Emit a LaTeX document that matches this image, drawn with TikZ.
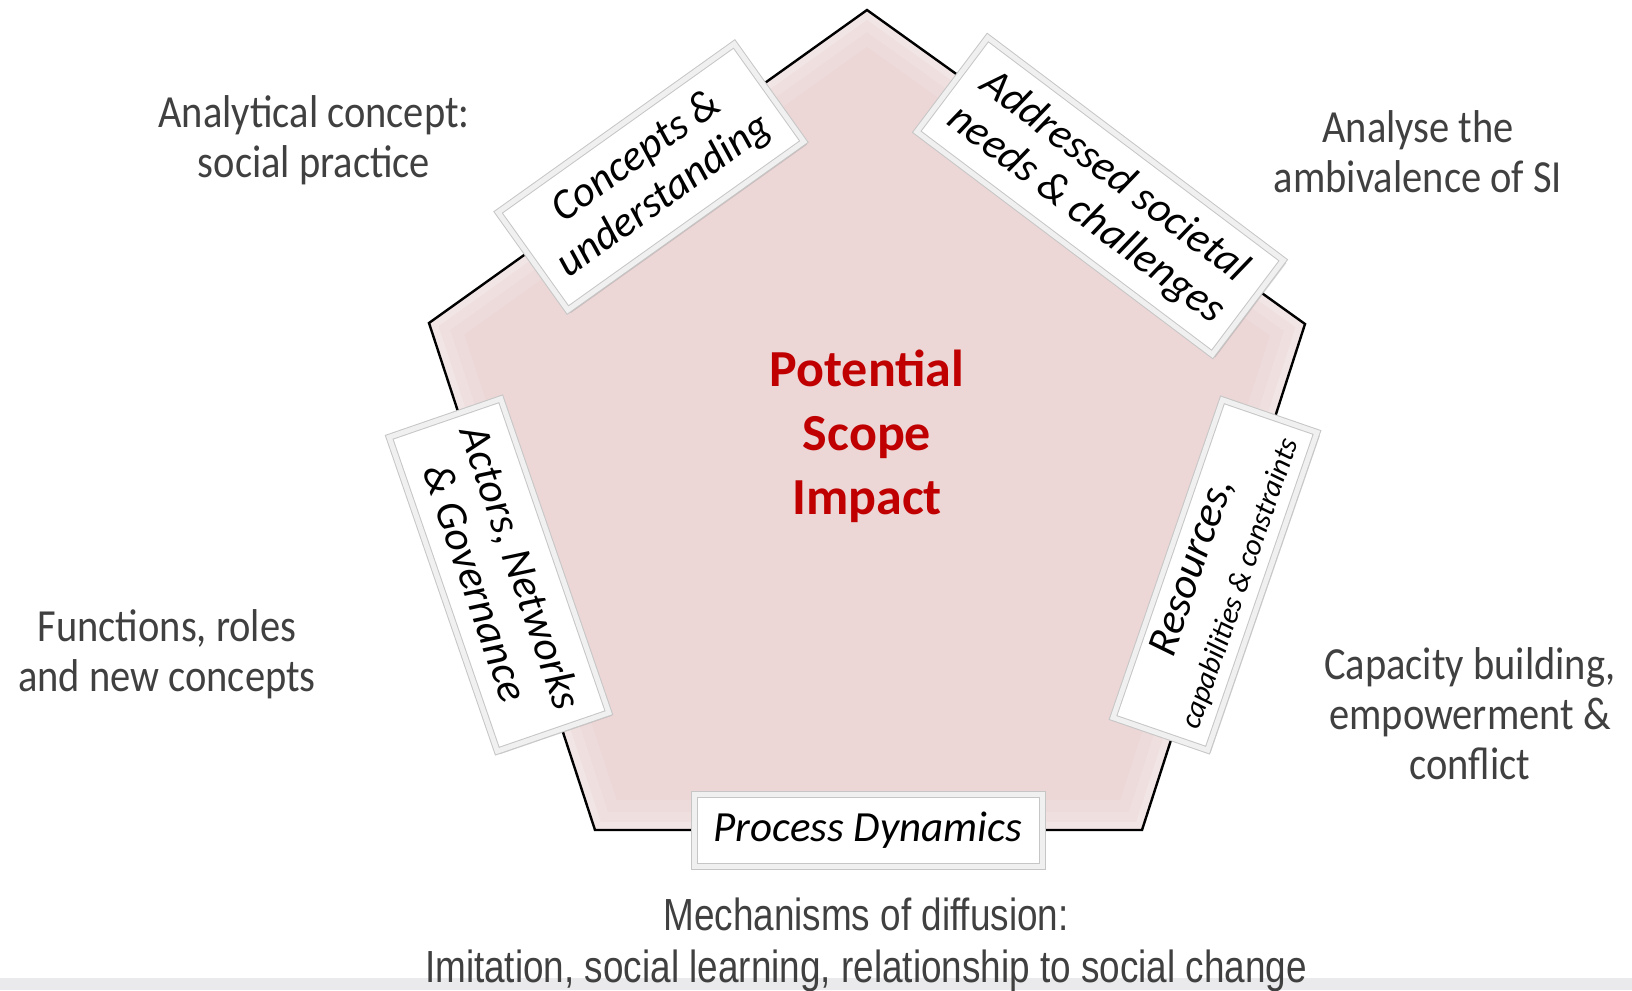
\documentclass[tikz,border=0pt]{standalone}
\usepackage{fontspec}
\setmainfont{Carlito}
\newfontfamily\notefont{Carlito}[FakeStretch=0.88]
\newfontfamily\narrowfont{Liberation Sans}[FakeStretch=0.82]
\usetikzlibrary{shadows}

\definecolor{pentafill}{RGB}{236,214,214}
\definecolor{notegray}{RGB}{64,64,64}
\definecolor{scopered}{RGB}{192,0,0}
\definecolor{stripgray}{RGB}{234,234,236}

\begin{document}
\begin{tikzpicture}[x=0.5pt,y=-0.5pt,
    tab/.style={rectangle,align=center,fill=white,draw=gray!45,double=gray!12,
      double distance=2.5pt,line width=0.5pt,inner sep=2pt,
      drop shadow={opacity=0.3,shadow xshift=1.5pt,shadow yshift=-1.5pt},
      font=\fontsize{21.5}{24}\selectfont\itshape},
    note/.style={align=center,text=notegray,font=\notefont\fontsize{23}{25}\selectfont},
    narrownote/.style={align=center,text=notegray,font=\narrowfont\fontsize{22.5}{26}\selectfont}]
      \useasboundingbox (0,0) rectangle (1632,990);
      \fill[stripgray] (0,978) rectangle (1632,990);

      % pentagon
      \coordinate (top) at (867,10);
      \coordinate (ur) at (1305,324);
      \coordinate (br) at (1142,830);
      \coordinate (bl) at (595,830);
      \coordinate (ul) at (429,323);
      \fill[pentafill] (top) -- (ur) -- (br) -- (bl) -- (ul) -- cycle;
      \begin{scope}
        \clip (top) -- (ur) -- (br) -- (bl) -- (ul) -- cycle;
        \foreach \w/\o in {30pt/0.1,18pt/0.15,8pt/0.2}
          \draw[white,opacity=\o,line width=\w] (top) -- (ur) -- (br) -- (bl) -- (ul) -- cycle;
      \end{scope}
      \draw[line width=1.2pt,line join=miter] (top) -- (ur) -- (br) -- (bl) -- (ul) -- cycle;

      \node[font=\fontsize{26}{32}\selectfont\bfseries,text=scopered,align=center] (psi) at (867,436)
        {Potential\\Scope\\Impact};

      % tabs
      \node[tab,rotate=35.5,minimum width=145pt,minimum height=60pt] (cu) at (651,177)
        {Concepts \&\\understanding};
      \node[tab,rotate=-37,minimum width=185pt,minimum height=59pt] (asn) at (1100,196)
        {Addressed societal\\needs \& challenges};
      \node[tab,rotate=-71,minimum width=166pt,minimum height=59pt] (ang) at (499,575)
        {Actors, Networks\\\& Governance};
      \node[tab,rotate=71,minimum width=168pt,minimum height=50pt] (rcc) at (1215,575)
        {Resources,\\{\fontsize{15}{16}\selectfont capabilities \& constraints}};
      \node[tab,minimum width=174pt,minimum height=36pt] (pd) at (868,830)
        {Process Dynamics};

      % notes
      \node[note] (n1) at (314,140) {Analytical concept:\\social practice};
      \node[note] (n2) at (1418,152) {Analyse the\\ambivalence of SI};
      \node[note] (n3) at (167,654) {Functions, roles\\and new concepts};
      \node[note] (n4) at (1470,714) {Capacity building,\\empowerment \&\\conflict};
      \node[narrownote] (n5) at (866,945)
        {Mechanisms of diffusion:\\Imitation, social learning, relationship to social change};
\end{tikzpicture}
\end{document}
